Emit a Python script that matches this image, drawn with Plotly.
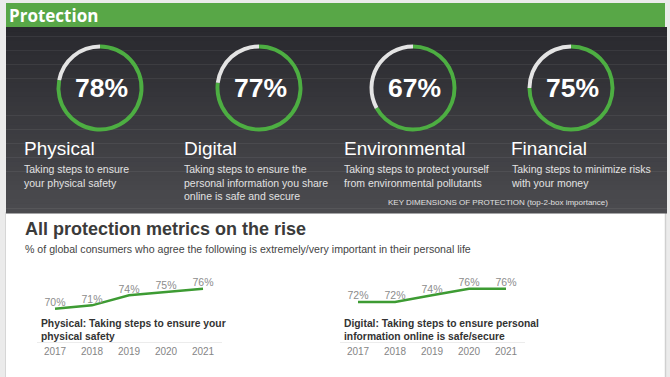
import plotly.graph_objects as go

W, H = 670, 377

# ---------------- data ----------------
dimensions = ["Physical", "Digital", "Environmental", "Financial"]
importance = [78, 77, 67, 75]
descriptions = [
    "Taking steps to ensure<br>your physical safety",
    "Taking steps to ensure the<br>personal information you share<br>online is safe and secure",
    "Taking steps to protect yourself<br>from environmental pollutants",
    "Taking steps to minimize risks<br>with your money",
]
years = [2017, 2018, 2019, 2020, 2021]
physical_trend = [70, 71, 74, 75, 76]
digital_trend = [72, 72, 74, 76, 76]
trend_captions = [
    "Physical: Taking steps to ensure your<br>physical safety",
    "Digital: Taking steps to ensure personal<br>information online is safe/secure",
]

# ---------------- helpers ----------------
def px(x):
    return x / W


def py(y):
    return 1 - y / H


GREEN_RING = "#4dae42"
GREEN_LINE = "#3d9b33"
RING_REST = "#e4e4e4"
FONT = "Liberation Sans, Arial, sans-serif"

fig = go.Figure()
shapes = []
annotations = []

# page background
shapes.append(dict(type="rect", xref="paper", yref="paper", x0=0, x1=1, y0=0, y1=1,
                   fillcolor="#ebebeb", line_width=0, layer="below"))
# white content area
shapes.append(dict(type="rect", xref="paper", yref="paper", x0=px(6), x1=px(665), y0=0, y1=py(3),
                   fillcolor="#ffffff", line_width=0, layer="below"))
shapes.append(dict(type="line", xref="paper", yref="paper", x0=px(5.5), x1=px(5.5), y0=0, y1=py(212),
                   line=dict(color="#d6d6d6", width=1), layer="below"))
shapes.append(dict(type="line", xref="paper", yref="paper", x0=px(665.5), x1=px(665.5), y0=0, y1=py(212),
                   line=dict(color="#d0d0d0", width=1.5), layer="below"))

# dark gradient panel (strips)
top_y, bot_y = 27, 213
n = 40
c0 = (0x29, 0x29, 0x2e)
c1 = (0x4b, 0x4b, 0x4f)
for i in range(n):
    t = i / (n - 1)
    c = tuple(int(round(a + (b - a) * t)) for a, b in zip(c0, c1))
    y0 = top_y + (bot_y - top_y) * i / n
    y1 = top_y + (bot_y - top_y) * (i + 1) / n
    shapes.append(dict(type="rect", xref="paper", yref="paper", x0=px(6), x1=px(667),
                       y0=py(y1 + 0.5), y1=py(y0), fillcolor="rgb(%d,%d,%d)" % c,
                       line_width=0, layer="below"))

# green header
shapes.append(dict(type="rect", xref="paper", yref="paper", x0=px(6), x1=px(665), y0=py(27), y1=py(3),
                   fillcolor="#58a747", line_width=0, layer="below"))
annotations.append(dict(text="<b>Protection</b>", x=px(7), y=py(15.5), xref="paper", yref="paper",
                        xanchor="left", yanchor="middle", showarrow=False,
                        font=dict(family="Open Sans", size=17, color="#ffffff")))

# donuts
centers_x = [100, 259, 413, 571]
cy, r = 88, 43.5
title_x = [23, 183, 343, 510]
for i, (name, val, desc) in enumerate(zip(dimensions, importance, descriptions)):
    cx = centers_x[i]
    fig.add_trace(go.Pie(
        values=[val, 100 - val], sort=False, direction="clockwise", rotation=0,
        hole=0.91, marker=dict(colors=[GREEN_RING, RING_REST], line=dict(width=0)),
        textinfo="none", hoverinfo="skip", showlegend=False,
        domain=dict(x=[px(cx - r), px(cx + r)], y=[py(cy + r), py(cy - r)]),
    ))
    annotations.append(dict(text="<b>%d%%</b>" % val, x=px(cx + 1), y=py(cy), xref="paper", yref="paper",
                            xanchor="center", yanchor="middle", showarrow=False,
                            font=dict(family=FONT, size=26.5, color="#ffffff")))
    annotations.append(dict(text=name, x=px(title_x[i] - 1), y=py(148), xref="paper", yref="paper",
                            xanchor="left", yanchor="middle", showarrow=False,
                            font=dict(family=FONT, size=19, color="#ffffff")))
    annotations.append(dict(text=desc, x=px(title_x[i] - 1), y=py(161), xref="paper", yref="paper",
                            xanchor="left", yanchor="top", showarrow=False, align="left",
                            font=dict(family=FONT, size=10.5, color="#e2e2e2")))

annotations.append(dict(text="KEY DIMENSIONS OF PROTECTION (top-2-box importance)", x=px(498), y=py(202),
                        xref="paper", yref="paper", xanchor="center", yanchor="middle", showarrow=False,
                        font=dict(family=FONT, size=8, color="#e0e0e0")))

# lower section titles
annotations.append(dict(text="<b>All protection metrics on the rise</b>", x=px(23), y=py(228.5),
                        xref="paper", yref="paper", xanchor="left", yanchor="middle", showarrow=False,
                        font=dict(family=FONT, size=18, color="#3b3b3b")))
annotations.append(dict(text="% of global consumers who agree the following is extremely/very important in their personal life",
                        x=px(23), y=py(249), xref="paper", yref="paper", xanchor="left", yanchor="middle",
                        showarrow=False, font=dict(family=FONT, size=10.6, color="#444444")))

# trend line charts
axis_x_domains = [(36.5, 221.5), (339.5, 524.5)]
y_dom = [py(342), py(268.7)]
for k, (series, cap) in enumerate(zip([physical_trend, digital_trend], trend_captions)):
    xa = "x" if k == 0 else "x2"
    ya = "y" if k == 0 else "y2"
    fig.add_trace(go.Scatter(
        x=years, y=series, xaxis=xa, yaxis=ya, mode="lines+text",
        text=["%d%%" % v for v in series], textposition="top center",
        textfont=dict(family=FONT, size=10.5, color="#8c8c8c"),
        line=dict(color=GREEN_LINE, width=2.5), cliponaxis=False,
        hoverinfo="skip", showlegend=False,
    ))
    d0, d1 = axis_x_domains[k]
    annotations.append(dict(text="<b>%s</b>" % cap, x=px(d0 + 2.5), y=py(316), xref="paper", yref="paper",
                            xanchor="left", yanchor="top", showarrow=False, align="left",
                            font=dict(family=FONT, size=10.3, color="#333333")))

xaxis_common = dict(range=[2016.5, 2021.5], tickvals=years, ticktext=[str(y) for y in years],
                    showline=True, linecolor="#ececec", linewidth=1, showgrid=False, zeroline=False,
                    ticks="", tickfont=dict(family=FONT, size=10, color="#858585"), fixedrange=True)
yaxis_common = dict(range=[60, 82], visible=False, showgrid=False, zeroline=False, fixedrange=True)

fig.update_layout(
    width=W, height=H, margin=dict(l=0, r=0, t=0, b=0),
    paper_bgcolor="#ffffff", plot_bgcolor="rgba(0,0,0,0)",
    shapes=shapes, annotations=annotations,
    xaxis=dict(domain=[px(36.5), px(221.5)], anchor="y", **xaxis_common),
    yaxis=dict(domain=y_dom, anchor="x", **yaxis_common),
    xaxis2=dict(domain=[px(339.5), px(524.5)], anchor="y2", **xaxis_common),
    yaxis2=dict(domain=y_dom, anchor="x2", **yaxis_common),
    showlegend=False,
)

fig.write_html(
    "out.html",
    config={"displayModeBar": False},
    post_script="document.body.style.margin='0';document.body.style.padding='0';document.body.style.overflow='hidden';",
)
